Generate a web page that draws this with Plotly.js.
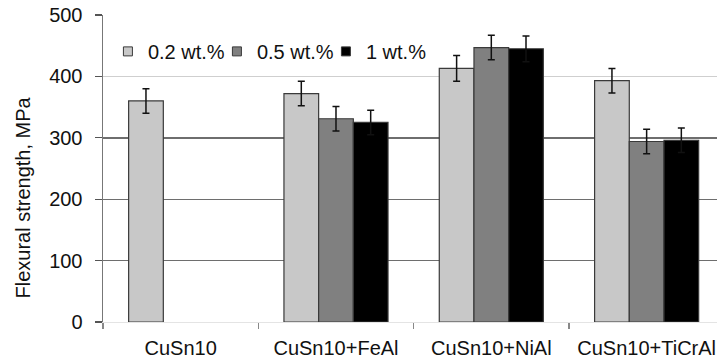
<!DOCTYPE html>
<html>
<head>
<meta charset="utf-8">
<script src="https://cdn.plot.ly/plotly-3.0.1.min.js"></script>
<style>html,body{margin:0;padding:0;background:#fff;}#chart{width:717px;height:361px;}</style>
</head>
<body>
<div id="chart"></div>
<script>
const categories = ["CuSn10", "CuSn10+FeAl", "CuSn10+NiAl", "CuSn10+TiCrAl"];
const seriesNames = ["0.2 wt.%", "0.5 wt.%", "1 wt.%"];
const values02 = [360, 372, 413, 393];
const values05 = [null, 331, 447, 294];
const values1 = [null, 325, 445, 296];
const errors02 = [20, 20, 21, 20];
const errors05 = [0, 20, 20, 20];
const errors1 = [0, 20, 21, 20];
const yTicks = [0, 100, 200, 300, 400, 500];
const darkGrid = [100, 200, 300, 500];
const lightGrid = [400];
const yTitle = "Flexural strength, MPa";

const fillColors = ["#c8c8c8", "#808080", "#000000"];
const FONT = "Liberation Sans, Arial, sans-serif";

function barTrace(name, vals, errs, color) {
  return {
    type: "bar", name: name, x: categories, y: vals, showlegend: false,
    marker: {color: color, line: {color: "#3a3a3a", width: 1.2}},
    error_y: {type: "data", array: errs, visible: true, color: "#111", thickness: 1.5, width: 3.5},
    hoverinfo: "none"
  };
}
function legendTrace(name, color) {
  return {
    type: "scatter", mode: "markers", name: name, x: [categories[0]], y: [null],
    marker: {symbol: "square", size: 9, color: color, line: {color: "#3a3a3a", width: 1}},
    showlegend: true, hoverinfo: "none"
  };
}

const data = [
  barTrace(seriesNames[0], values02, errors02, fillColors[0]),
  barTrace(seriesNames[1], values05, errors05, fillColors[1]),
  barTrace(seriesNames[2], values1, errors1, fillColors[2]),
  legendTrace(seriesNames[0], fillColors[0]),
  legendTrace(seriesNames[1], fillColors[1]),
  legendTrace(seriesNames[2], fillColors[2])
];

const layout = {
  width: 717, height: 361,
  margin: {l: 103, r: 0, t: 15, b: 39, pad: 0},
  paper_bgcolor: "#fff", plot_bgcolor: "#fff",
  font: {family: FONT, size: 20, color: "#111"},
  barmode: "group", bargap: 0.33, bargroupgap: 0,
  showlegend: true,
  legend: {orientation: "h", x: 0.008, y: 0.945, xanchor: "left", yanchor: "top",
    entrywidth: 64, entrywidthmode: "pixels",
    bgcolor: "rgba(255,255,255,0)", font: {family: FONT, size: 20, color: "#111"}, traceorder: "normal"},
  xaxis: {
    type: "category", range: [-0.5, 3.453], autorange: false,
    showgrid: false, showline: true, linecolor: "#e4e4e4", linewidth: 1,
    ticks: "outside", tickson: "boundaries", ticklen: 6, tickcolor: "#888", tickwidth: 1.2,
    ticklabelstandoff: 8,
    tickfont: {family: FONT, size: 20, color: "#111"}, zeroline: false
  },
  yaxis: {
    range: [0, 500], autorange: false, tickvals: yTicks,
    showgrid: false, showline: true, linecolor: "#777", linewidth: 1.5,
    ticks: "outside", ticklen: 7, tickcolor: "#555", tickwidth: 1.3,
    ticklabelstandoff: 8,
    tickfont: {family: FONT, size: 20, color: "#111"}, zeroline: false
  },
  yaxis2: {
    overlaying: "y", range: [0, 500], autorange: false, tickvals: darkGrid,
    showgrid: true, gridcolor: "#6e6e6e", gridwidth: 1.4,
    showticklabels: false, ticks: "", showline: false, zeroline: false
  },
  yaxis3: {
    overlaying: "y", range: [0, 500], autorange: false, tickvals: lightGrid,
    showgrid: true, gridcolor: "#cfcfcf", gridwidth: 1.4,
    showticklabels: false, ticks: "", showline: false, zeroline: false
  },
  annotations: [{
    text: yTitle, xref: "paper", yref: "paper", x: -0.1319, y: 0.4055,
    xanchor: "center", yanchor: "middle", textangle: -90, showarrow: false,
    font: {family: FONT, size: 20, color: "#111"}
  }]
};

data.push({type: "scatter", x: [categories[0]], y: [null], yaxis: "y2", showlegend: false, hoverinfo: "none"});
data.push({type: "scatter", x: [categories[0]], y: [null], yaxis: "y3", showlegend: false, hoverinfo: "none"});

Plotly.newPlot("chart", data, layout, {staticPlot: true});
</script>
</body>
</html>
